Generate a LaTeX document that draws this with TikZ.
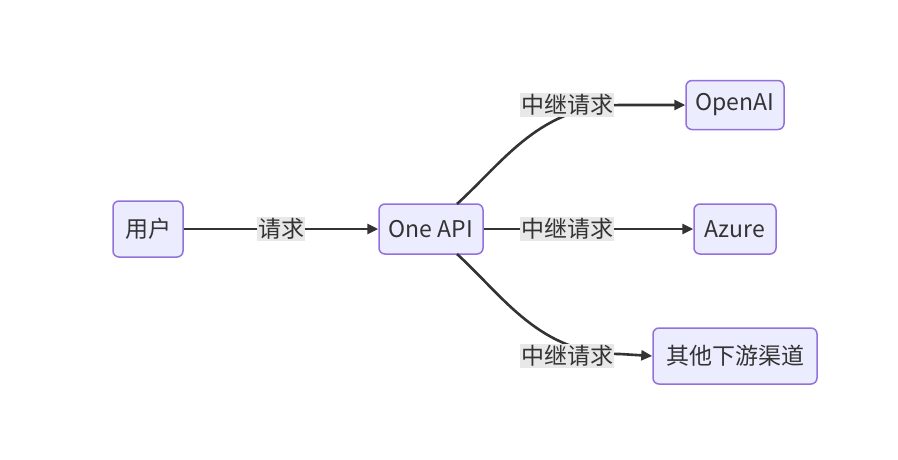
\documentclass[tikz,border=0pt]{standalone}
\usepackage{fontspec}
\setmainfont{Noto Sans CJK SC}
\usetikzlibrary{arrows.meta}
\definecolor{nodefill}{HTML}{ECECFF}
\definecolor{nodeline}{HTML}{9370DB}
\definecolor{edgecol}{HTML}{333333}
\definecolor{lblbg}{HTML}{E8E8E8}
\tikzset{
  box/.style={draw=nodeline, fill=nodefill, line width=1.5pt, rounded corners=6pt,
    text=edgecol, font=\fontsize{23}{26}\selectfont, inner sep=0pt, anchor=center},
  lbl/.style={fill=lblbg, text=edgecol, font=\fontsize{23}{26}\selectfont, inner sep=1pt, anchor=center},
  conn/.style={draw=edgecol, line width=2.6pt, -{Triangle[length=11pt,width=10pt]}},
}
\begin{document}
\begin{tikzpicture}[x=1pt,y=-1pt]
\useasboundingbox (0,0) rectangle (898,459);
\node[box, minimum width=70pt, minimum height=56pt] (user) at (148,229) {用户};
\node[box, minimum width=104pt, minimum height=50pt] (api) at (431,229) {One API};
\node[box, minimum width=98pt, minimum height=49pt] (openai) at (735,105) {OpenAI};
\node[box, minimum width=82pt, minimum height=50pt] (azure) at (735,229) {Azure};
\node[box, minimum width=164pt, minimum height=56pt] (other) at (735,356) {其他下游渠道};
\coordinate (t1) at (457,204);
\coordinate (b1) at (457,254);
% edges
\draw[conn] (user) -- (api);
\draw[conn] (api) -- (azure);
\draw[conn] (t1) .. controls (505,160) and (540,106) .. (620,105) -- (openai.west);
\draw[conn] (b1) .. controls (505,298) and (540,354) .. (620,354) -- (other.west);
% labels
\node[lbl] (l0) at (281,229) {请求};
\node[lbl] (l1) at (567,105) {中继请求};
\node[lbl] (l2) at (567,229) {中继请求};
\node[lbl] (l3) at (567,356) {中继请求};
\end{tikzpicture}
\end{document}
